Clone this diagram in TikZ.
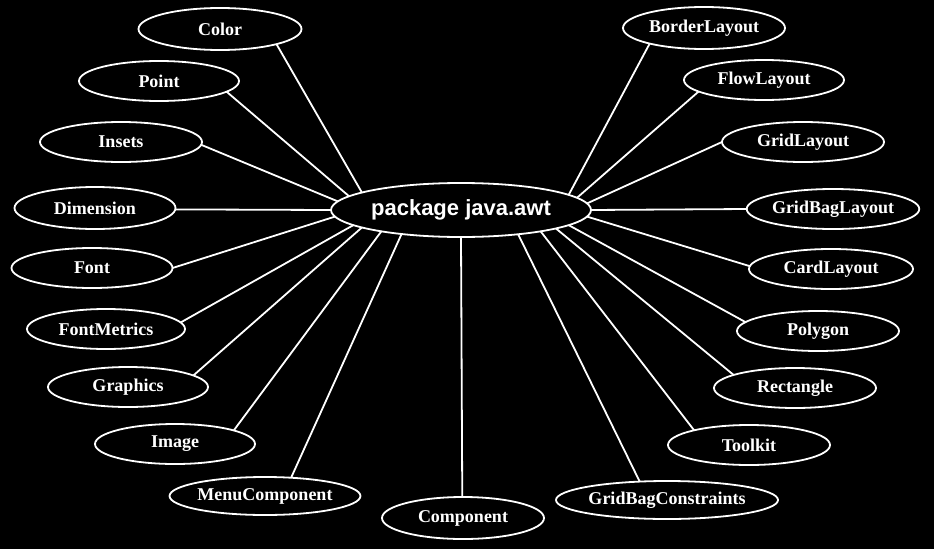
\documentclass[tikz,border=0pt]{standalone}
\usepackage{fontspec}
\setmainfont{Liberation Serif}
\newfontfamily\hsans{Liberation Sans}
\usetikzlibrary{shapes.geometric}
\begin{document}
\begin{tikzpicture}[x=1pt,y=-1pt,
  cls/.style={ellipse, draw=white, line width=1.8pt, fill=black, text=white,
    inner sep=0pt, outer sep=0pt, minimum width=162pt, minimum height=40pt,
    font=\fontsize{18}{20}\selectfont\bfseries},
  pkg/.style={ellipse, draw=white, line width=1.8pt, fill=black, text=white,
    inner sep=0pt, outer sep=0pt, minimum width=260pt, minimum height=54pt,
    font=\hsans\fontsize{22}{26}\selectfont\bfseries},
  link/.style={draw=white, line width=1.8pt}]
\fill[black] (0,0) rectangle (934,549);
\useasboundingbox (0,0) rectangle (934,549);

\node[pkg] (P) at (461,210) {package java.awt};

% left side
\node[cls, minimum width=163pt, minimum height=42pt] (color) at (220,29) {Color};
\node[cls, minimum width=160pt] (point) at (159,81) {Point};
\node[cls] (insets) at (121,142) {Insets};
\node[cls, minimum width=161pt, minimum height=42pt] (dim) at (95,208) {Dimension};
\node[cls, minimum width=161pt] (font) at (92,268) {Font};
\node[cls, minimum width=158pt] (fm) at (106,329) {FontMetrics};
\node[cls, minimum width=160pt] (gr) at (128,387) {Graphics};
\node[cls, minimum width=160pt] (img) at (175,444) {Image};
\node[cls, minimum width=190pt, minimum height=38pt] (menu) at (265,496) {MenuComponent};
\node[cls, minimum height=42pt] (comp) at (463,518) {Component};
% right side
\node[cls, minimum width=211pt, minimum height=38pt] (gbc) at (667,500) {GridBagConstraints};
\node[cls] (tk) at (749,445) {Toolkit};
\node[cls] (rect) at (795,388) {Rectangle};
\node[cls] (poly) at (818,331) {Polygon};
\node[cls, minimum width=164pt] (card) at (831,269) {CardLayout};
\node[cls, minimum width=172pt] (gbl) at (833,209) {GridBagLayout};
\node[cls] (grid) at (803,142) {GridLayout};
\node[cls, minimum width=160pt] (flow) at (764,80) {FlowLayout};
\node[cls, minimum height=42pt] (border) at (704,28) {BorderLayout};

\draw[link] (P.170.6) -- (color.-15.7);
\draw[link] (P.173.7) -- (point.-9.9);
\draw[link] (P.176.9) -- (insets.-2);
\draw[link] (P.180) -- (dim.-1);
\draw[link] (P.183.1) -- (font.0);
\draw[link] (P.188.5) -- (fm.5.8);
\draw[link] (P.190.7) -- (gr.10.9);
\draw[link] (P.195.9) -- (img.13.3);
\draw[link] (P.202.3) -- (menu.35);
\draw[link] (P.270) -- (comp.92.5);
\draw[link] (P.-23.5) -- (gbc.146.7);
\draw[link] (P.-15) -- (tk.165.7);
\draw[link] (P.-11.1) -- (rect.168.2);
\draw[link] (P.-8.8) -- (poly.173.6);
\draw[link] (P.-3.2) -- (card.178.6);
\draw[link] (P.0) -- (gbl.180);
\draw[link] (P.3.2) -- (grid.180);
\draw[link] (P.6.2) -- (flow.190.7);
\draw[link] (P.8.2) -- (border.196.3);
\end{tikzpicture}
\end{document}
